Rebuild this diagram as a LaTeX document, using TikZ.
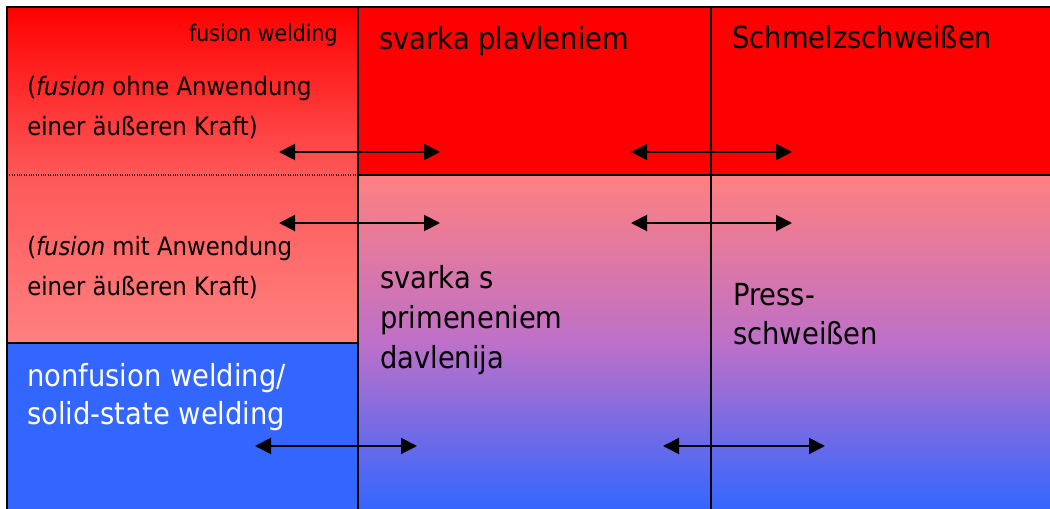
\documentclass[tikz,border=0pt]{standalone}
\usepackage{fontspec}
\setmainfont{DejaVu Sans Condensed}
\usetikzlibrary{arrows.meta}
\definecolor{fusred}{RGB}{255,0,0}
\definecolor{fuspink}{RGB}{255,128,128}
\definecolor{fusmid}{RGB}{255,88,88}
\definecolor{pressmid}{RGB}{190,112,200}
\definecolor{solidblue}{RGB}{51,102,255}
\begin{document}
\begin{tikzpicture}[x=0.75pt,y=-0.75pt,
  rule/.style={line width=1.5pt, black},
  dbl/.style={line width=1.5pt,
    {Triangle[length=12pt,width=12pt]}-{Triangle[length=12pt,width=12pt]}},
  lbl/.style={inner sep=0pt, anchor=base west, font=\fontsize{22.8}{27}\selectfont},
  note/.style={inner sep=0pt, anchor=base west, font=\fontsize{19}{23}\selectfont},
  small/.style={inner sep=0pt, anchor=base east, font=\fontsize{17.1}{20}\selectfont}]

% page
\fill[white] (0,0) rectangle (1050,509);
\useasboundingbox (0,0) rectangle (1050,509);

% cell fills
\shade[top color=fusred, bottom color=fuspink, middle color=fusmid]
  (7,7) rectangle (358,343);
\fill[solidblue] (7,343) rectangle (358,509);
\fill[fusred] (358,7) rectangle (1050,175);
\shade[top color=fuspink, bottom color=solidblue, middle color=pressmid]
  (358,175) rectangle (1050,509);

% grid lines
\draw[rule] (7,509) -- (7,7) -- (1050,7);
\draw[rule] (358,7) -- (358,509);
\draw[rule] (711,7) -- (711,509);
\draw[rule] (358,175) -- (1050,175);
\draw[rule] (7,343) -- (358,343);
\draw[line width=0.8pt, black!75!red, densely dotted] (7,175) -- (358,175);

% left column
\node[small] (fw) at (338,42) {fusion welding};
\node[note] (ohneA) at (27,96) {(\textit{fusion} ohne Anwendung};
\node[note] (ohneB) at (27,136) {einer äußeren Kraft)};
\node[note] (mitA) at (27,256) {(\textit{fusion} mit Anwendung};
\node[note] (mitB) at (27,296) {einer äußeren Kraft)};
\node[lbl, text=white] (nfA) at (27,387) {nonfusion welding/};
\node[lbl, text=white] (nfB) at (27,425) {solid-state welding};

% middle column
\node[lbl] (svp) at (379,50) {svarka plavleniem};
\node[lbl] (svsA) at (380,289) {svarka s};
\node[lbl] (svsB) at (380,329) {primeneniem};
\node[lbl] (svsC) at (380,369) {davlenija};

% right column
\node[lbl] (schm) at (732,49) {Schmelzschweißen};
\node[lbl] (pressA) at (733,306) {Press-};
\node[lbl] (pressB) at (733,345) {schweißen};

% correspondence arrows
\coordinate (r1a) at (279,152); \coordinate (r1b) at (440,152);
\coordinate (r1c) at (631,152); \coordinate (r1d) at (792,152);
\coordinate (r2a) at (279,223); \coordinate (r2b) at (440,223);
\coordinate (r2c) at (631,223); \coordinate (r2d) at (792,223);
\coordinate (r3a) at (255,446); \coordinate (r3b) at (417,446);
\coordinate (r3c) at (663,446); \coordinate (r3d) at (825,446);
\draw[dbl] (r1a) -- (r1b);
\draw[dbl] (r1c) -- (r1d);
\draw[dbl] (r2a) -- (r2b);
\draw[dbl] (r2c) -- (r2d);
\draw[dbl] (r3a) -- (r3b);
\draw[dbl] (r3c) -- (r3d);
\end{tikzpicture}
\end{document}
